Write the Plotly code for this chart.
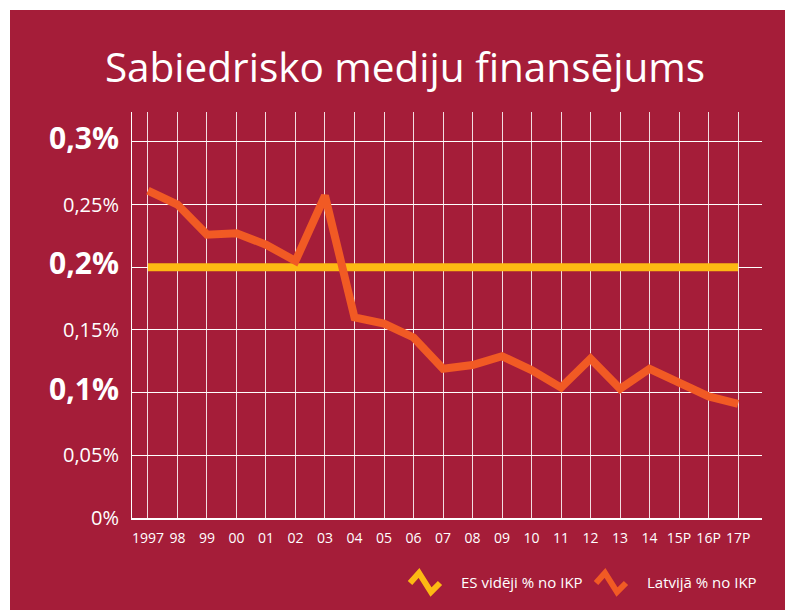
import plotly.graph_objects as go

# data
years = ["1997", "98", "99", "00", "01", "02", "03", "04", "05", "06", "07",
         "08", "09", "10", "11", "12", "13", "14", "15P", "16P", "17P"]
latvia = [0.261, 0.250, 0.226, 0.227, 0.218, 0.205, 0.257, 0.160, 0.155, 0.144, 0.119,
          0.122, 0.129, 0.118, 0.104, 0.127, 0.103, 0.119, 0.108, 0.097, 0.091]
eu_avg = [0.2] * len(years)

y_vals = [0, 0.05, 0.1, 0.15, 0.2, 0.25, 0.3]
y_text = ["0%", "0,05%", "0,1%", "0,15%", "0,2%", "0,25%", "0,3%"]
y_major = [False, False, True, False, True, False, True]

BG = "#A51D39"
ORANGE = "#F15A24"
YELLOW = "#FDB913"
FONT = "Open Sans"

OFF = 8  # page body margin
W, H = 793 - OFF, 610 - OFF
# plot area edges in page pixels: left 132, right 762, top 112, bottom 518
L, R, T, B = 132 - OFF, 793 - 762, 112 - OFF, 610 - 518


def px(x, y):
    # page pixel position -> paper coords
    x, y = x - OFF, y - OFF
    return (x - L) / (W - L - R), (H - B - y) / (H - T - B)


x = list(range(len(years)))

fig = go.Figure()
fig.add_trace(go.Scatter(x=x, y=eu_avg, mode="lines", name="ES vidēji % no IKP",
                         line=dict(color=YELLOW, width=8)))
fig.add_trace(go.Scatter(x=x, y=latvia, mode="lines", name="Latvijā % no IKP",
                         line=dict(color=ORANGE, width=8)))

ticktext = []
for t, big in zip(y_text, y_major):
    if big:
        ticktext.append("<span style='font-size:30px'><b>%s</b></span>" % t)
    else:
        ticktext.append(t)

# background panel (white strip on top/left)
x0, y0 = px(10, 10)
x1, y1 = px(800, 620)
shapes = [dict(type="rect", xref="paper", yref="paper", x0=x0, y0=y1, x1=x1, y1=y0,
               fillcolor=BG, line=dict(width=0), layer="below")]

# custom legend with zigzag icons
annotations = []
legend_items = [(410, "ES vidēji % no IKP", YELLOW), (596, "Latvijā % no IKP", ORANGE)]
for lx, name, col in legend_items:
    pts = [px(lx, 583), px(lx + 9, 573), px(lx + 21, 592), px(lx + 30, 583)]
    path = "M %f %f L %f %f L %f %f L %f %f" % tuple(v for p in pts for v in p)
    shapes.append(dict(type="path", xref="paper", yref="paper", path=path,
                       line=dict(color=col, width=6)))
    tx, ty = px(lx + 49, 582)
    annotations.append(dict(x=tx, y=ty, xref="paper", yref="paper", text=name,
                            showarrow=False, xanchor="left", yanchor="middle",
                            font=dict(family=FONT, size=15, color="white")))

fig.update_layout(
    width=W, height=H,
    margin=dict(l=L, r=R, t=T, b=B),
    paper_bgcolor="white",
    plot_bgcolor="rgba(0,0,0,0)",
    showlegend=False,
    shapes=shapes,
    annotations=annotations,
    title=dict(text="Sabiedrisko mediju finansējums", x=(405 - OFF) / W, xanchor="center",
               y=1 - (68 - OFF) / H, yanchor="middle",
               font=dict(family=FONT, size=40.5, color="white")),
    font=dict(family=FONT, color="white"),
)
fig.update_xaxes(range=[-0.54, 20.81], tickmode="array", tickvals=x, ticktext=years,
                 showgrid=True, gridcolor="rgba(255,255,255,0.85)", gridwidth=1,
                 zeroline=False, showline=True, linecolor="white", linewidth=2,
                 tickfont=dict(size=14, color="white"), ticklabelstandoff=6)
fig.update_yaxes(range=[0, 0.3238], tickmode="array", tickvals=y_vals, ticktext=ticktext,
                 showgrid=True, gridcolor="white", gridwidth=1, zeroline=False,
                 showline=True, linecolor="white", linewidth=1,
                 tickfont=dict(size=20, color="white"), ticklabelstandoff=8)

fig.write_html("out.html")
